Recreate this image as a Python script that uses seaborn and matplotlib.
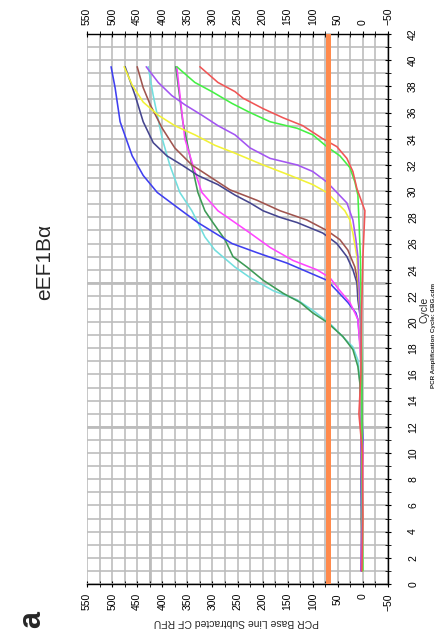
import matplotlib
matplotlib.use("Agg")
import matplotlib.pyplot as plt
import seaborn as sns
from matplotlib.ticker import MultipleLocator

# Readings from the chart: (cycle, RFU) per well trace
cyan_cyc = [1, 5, 10, 15, 17.1, 18.1, 19.9, 20.9, 21.7, 22.4, 23.4, 24.2, 25.5, 26.5, 27.6, 28.5, 29.9, 32.0, 34.0, 37.3, 39.5]
cyan_rfu = [3, 2, 3, 5, 10, 20, 66, 100, 131, 179, 225, 255, 295, 315, 329, 341, 365, 385, 400, 418, 428]

dkgreen_cyc = [1, 5, 10, 13, 15.3, 16.6, 17.9, 18.9, 20.0, 20.7, 21.5, 22.2, 23.2, 24.2, 25.0, 26.3, 27.6, 28.5, 29.9, 32.7, 35.3, 39.5]
dkgreen_rfu = [2, 3, 2, 5, 6, 10, 20, 40, 72, 100, 125, 159, 199, 231, 259, 275, 299, 315, 329, 345, 359, 373]

blue_cyc = [1, 4, 8, 11, 14, 18, 20.2, 20.7, 21.5, 22.4, 23.2, 24.5, 25.3, 26.0, 26.8, 27.6, 28.5, 29.9, 31.2, 32.7, 35.3, 37.9, 39.5]
blue_rfu = [3, 2, 4, 0, 3, 5, 10, 14, 30, 52, 72, 151, 211, 261, 295, 329, 361, 410, 438, 460, 484, 494, 502]

magenta_cyc = [1, 5, 10, 13, 16, 20.2, 20.7, 21.5, 22.4, 23.4, 24.0, 24.7, 25.7, 26.8, 27.6, 28.5, 29.9, 31.5, 34.0, 39.5]
magenta_rfu = [4, 2, 0, 3, 2, 10, 16, 26, 46, 66, 92, 139, 185, 225, 255, 289, 321, 335, 355, 371]

navy_cyc = [1, 5, 10, 15, 20, 21.7, 23.0, 24.0, 25.0, 26.0, 26.8, 27.6, 28.0, 28.5, 29.1, 29.7, 30.5, 31.2, 32.0, 32.7, 33.7, 35.3, 37.3, 39.5]
navy_rfu = [3, 2, 4, 2, 4, 10, 12, 20, 32, 52, 80, 131, 165, 199, 225, 255, 289, 329, 361, 391, 418, 438, 454, 474]

brown_cyc = [1, 5, 10, 15, 20, 23.0, 24.2, 25.5, 26.3, 27.0, 27.8, 28.5, 29.3, 30.1, 31.0, 32.0, 33.3, 34.8, 36.6, 37.9, 39.5]
brown_rfu = [2, 3, 1, 3, 4, 10, 16, 30, 46, 72, 112, 165, 211, 265, 301, 341, 375, 400, 424, 438, 450]

yellow_cyc = [1, 5, 10, 15, 20, 23.7, 25.0, 26.8, 27.8, 28.5, 29.9, 30.5, 31.2, 32.0, 32.9, 33.5, 34.3, 35.0, 35.8, 36.8, 38.1, 39.5]
yellow_rfu = [1, 2, 3, 4, 5, 10, 12, 20, 26, 36, 72, 100, 145, 199, 255, 295, 335, 375, 408, 438, 460, 476]

violet_cyc = [1, 5, 10, 15, 20, 25.0, 26.3, 27.8, 29.1, 29.9, 30.7, 31.5, 32.0, 32.5, 33.3, 34.3, 35.0, 35.8, 36.6, 37.3, 38.3, 39.5]
violet_rfu = [3, 2, 4, 3, 5, 10, 14, 20, 32, 52, 72, 100, 131, 185, 225, 255, 289, 321, 355, 381, 408, 432]

lime_cyc = [1, 5, 10, 15, 20, 25, 29.7, 30.7, 31.8, 32.7, 33.4, 34.3, 34.8, 35.3, 36.0, 36.7, 37.6, 38.3, 39.5]
lime_rfu = [0, 1, 2, 2, 3, 5, 10, 16, 26, 46, 72, 100, 131, 185, 225, 261, 301, 335, 371]

red_cyc = [1, 5, 10, 13, 16, 20, 25, 28.5, 30.2, 31.5, 32.5, 33.4, 34.0, 35.0, 35.6, 36.3, 37.1, 37.6, 38.3, 39.5]
red_rfu = [2, 0, 1, 8, 4, 3, 0, -4, 12, 20, 32, 52, 80, 120, 159, 199, 239, 255, 289, 325]

threshold = 70

traces = [
    (cyan_cyc, cyan_rfu, "#72dede"),
    (dkgreen_cyc, dkgreen_rfu, "#3d9a55"),
    (blue_cyc, blue_rfu, "#3f3ff0"),
    (magenta_cyc, magenta_rfu, "#ff45ff"),
    (navy_cyc, navy_rfu, "#45458f"),
    (brown_cyc, brown_rfu, "#a0544e"),
    (yellow_cyc, yellow_rfu, "#f2f236"),
    (violet_cyc, violet_rfu, "#a355f2"),
    (lime_cyc, lime_rfu, "#44f044"),
    (red_cyc, red_rfu, "#f05555"),
]

sns.set_style("white")
plt.rcParams["font.family"] = ["Liberation Sans", "DejaVu Sans"]

fig = plt.figure(figsize=(4.37, 6.39), dpi=100)
ax = fig.add_axes([87 / 437, 1 - 584 / 639, 301 / 437, 550 / 639])

# chart is shown turned a quarter turn: RFU runs across, cycle runs up
for cyc, rfu, col in traces:
    sns.lineplot(x=rfu, y=cyc, sort=False, estimator=None, color=col, lw=1.15, ax=ax)

ax.axvline(threshold, color="#ff8a4c", lw=3.6, zorder=3)

ax.set_xlim(550, -50)
ax.set_ylim(0, 42)
ax.xaxis.set_major_locator(MultipleLocator(50))
ax.xaxis.set_minor_locator(MultipleLocator(25))
ax.yaxis.set_major_locator(MultipleLocator(2))
ax.yaxis.set_minor_locator(MultipleLocator(1))
ax.grid(True, which="both", color="#bdbdbd", lw=1.2, zorder=0)
ax.set_axisbelow(True)
for v in [425]:
    ax.axvline(v, color="#b8b8b8", lw=1.9, zorder=0.5)
for v in [12, 23]:
    ax.axhline(v, color="#b8b8b8", lw=1.9, zorder=0.5)

ax.spines["left"].set_visible(False)
for s in ["top", "bottom", "right"]:
    ax.spines[s].set_color("black")
    ax.spines[s].set_linewidth(1.0)

ax.tick_params(axis="x", which="both", bottom=True, top=True, labelbottom=True, labeltop=True,
               direction="inout", labelrotation=90, labelsize=7.5, colors="black")
ax.tick_params(axis="x", which="major", length=5, pad=4)
ax.tick_params(axis="x", which="minor", length=4)
ax.tick_params(axis="y", which="both", left=False, right=True, labelleft=False, labelright=True,
               direction="inout", labelrotation=90, labelsize=7.5, colors="black")
ax.tick_params(axis="y", which="major", length=5, pad=12)
ax.tick_params(axis="y", which="minor", length=4)
for lab in ax.get_yticklabels():
    lab.set_verticalalignment("center")

ax.set_xlabel("")
ax.set_ylabel("")

fig.text(236 / 437, 1 - 622 / 639, "PCR Base Line Subtracted CF RFU", rotation=180,
         ha="center", va="center", fontsize=7.5)
fig.text(425 / 437, 1 - 310 / 639, "Cycle", rotation=90, ha="center", va="center", fontsize=7.5)
fig.text(433 / 437, 1 - 335 / 639, "PCR Amplification Cycle: CBG.cdm", rotation=90,
         ha="center", va="center", fontsize=4.5, fontweight="bold")
fig.text(45 / 437, 1 - 262 / 639, "eEF1B\u03b1", rotation=90, ha="center", va="center", fontsize=15)
fig.text(32 / 437, 1 - 619 / 639, "a", rotation=90, ha="center", va="center", fontsize=22, fontweight="bold")

fig.savefig("out.png", dpi=100)
